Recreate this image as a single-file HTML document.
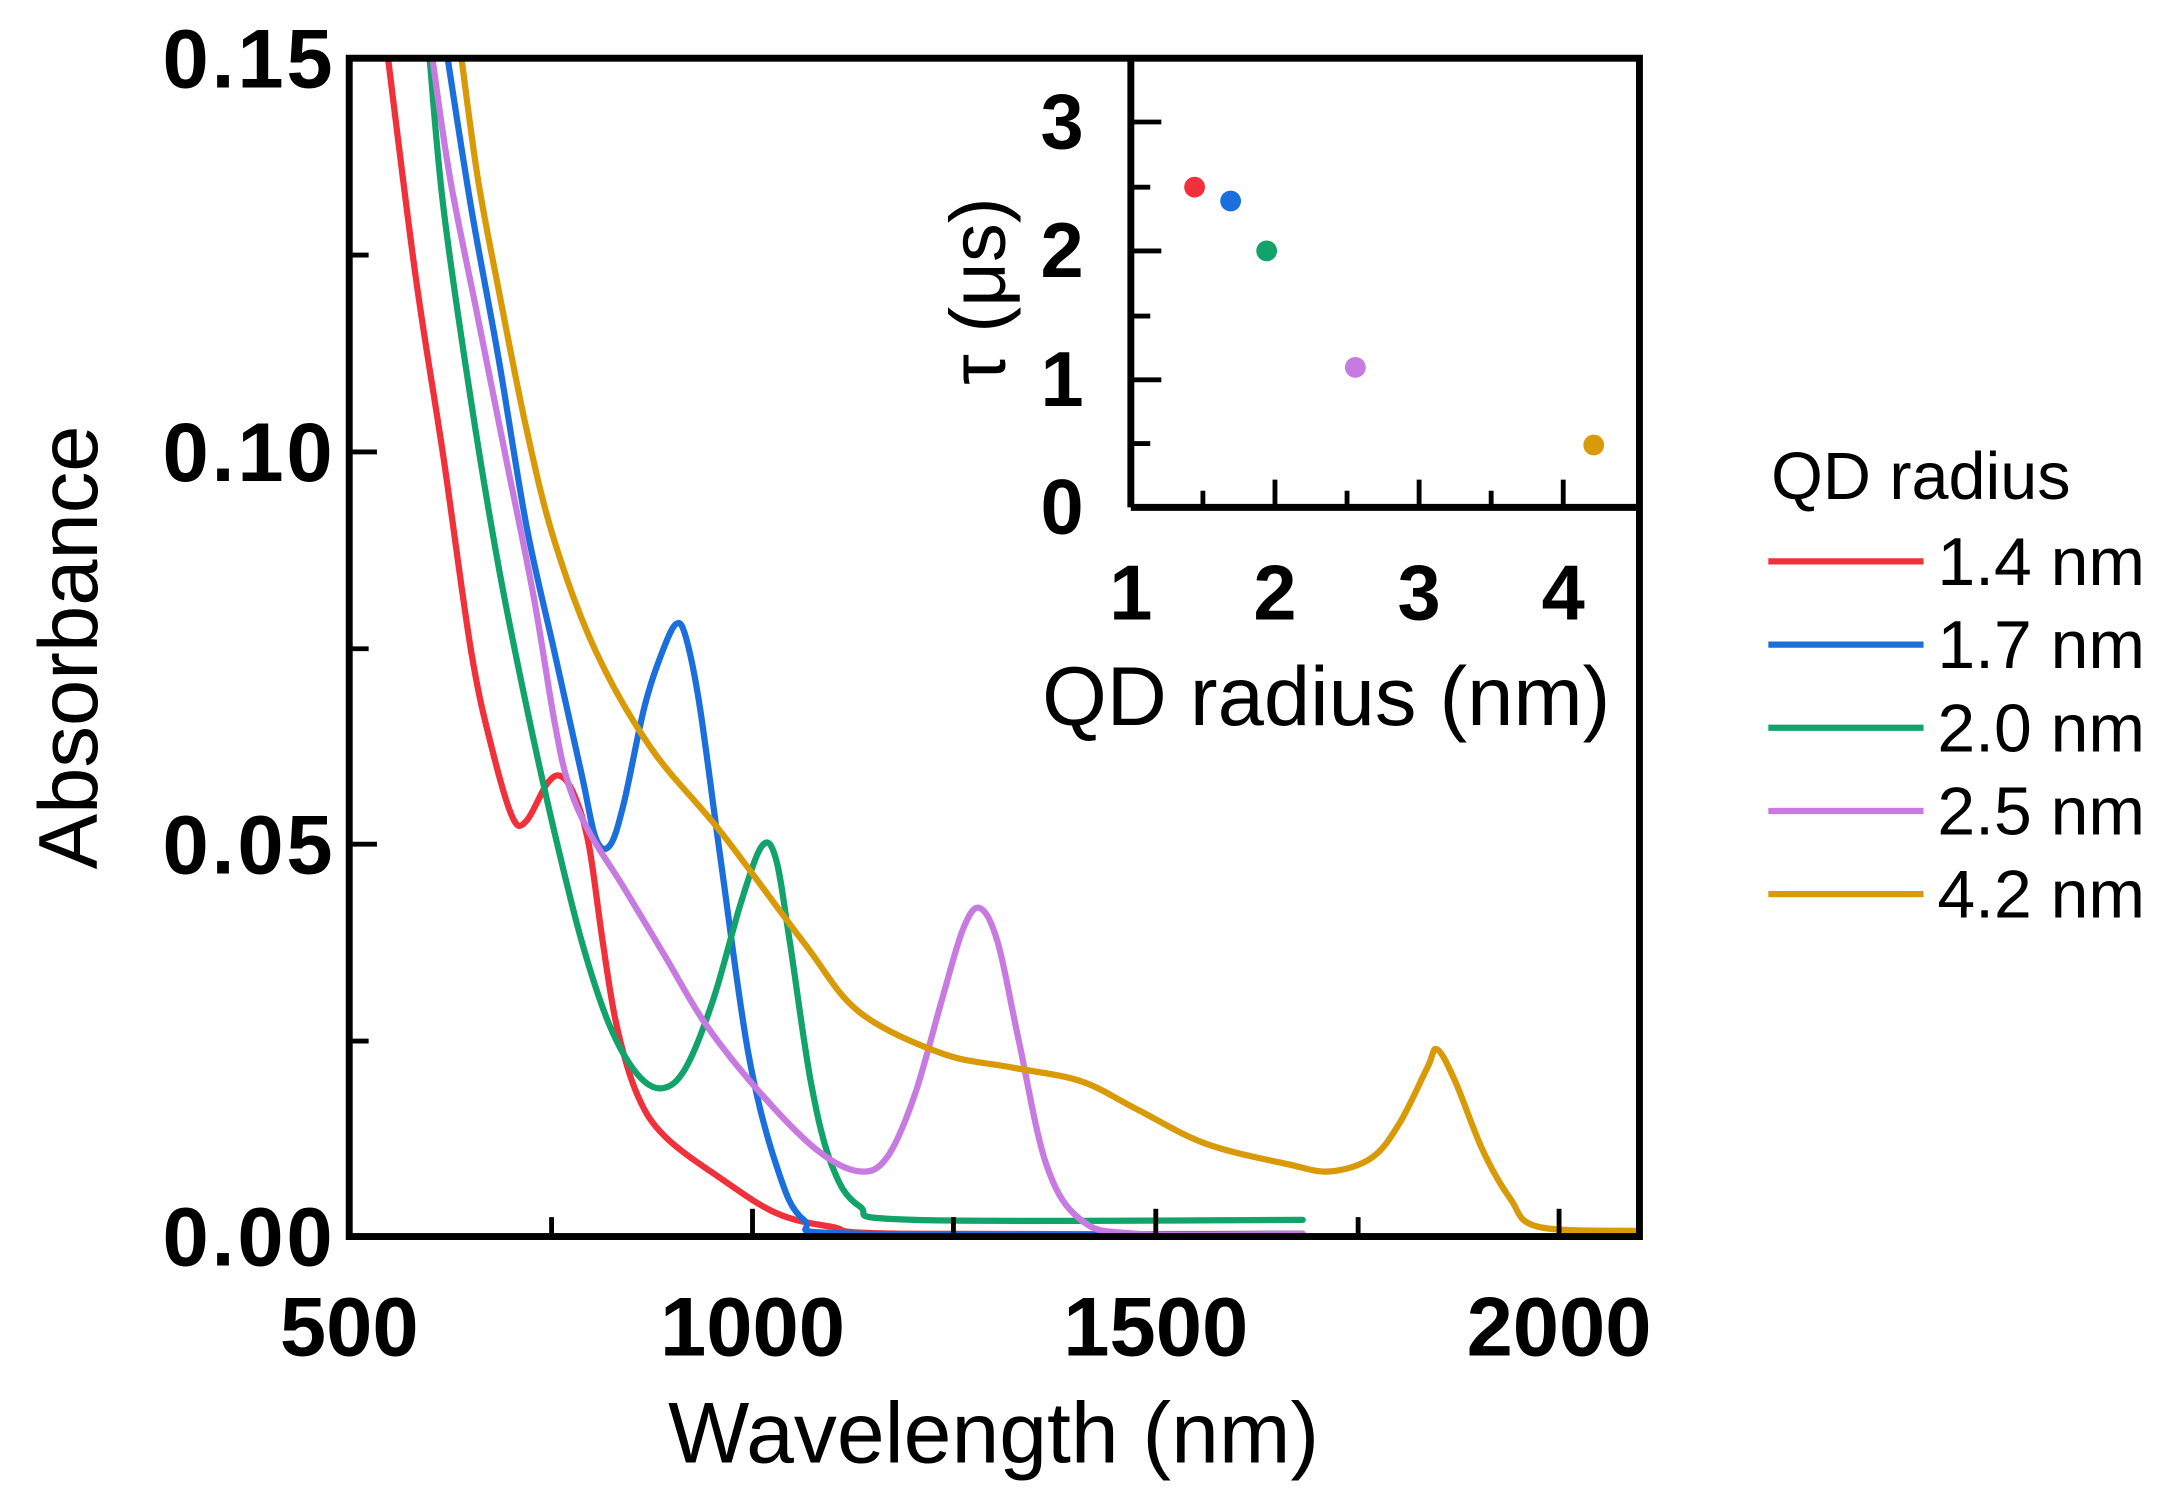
<!DOCTYPE html>
<html><head><style>html,body{margin:0;padding:0;background:#fff}svg{display:block}</style></head>
<body>
<svg id="s" width="2173" height="1511" viewBox="0 0 1568 1090" preserveAspectRatio="none" font-family="Liberation Sans, DejaVu Sans, sans-serif">
<rect width="1568" height="1090" fill="#fff"/>
<g fill="none" stroke-width="4.5" stroke-linejoin="round" stroke-linecap="round">
<polyline class="c" stroke="#f0303a" points="280,42 300,200 320,330 340,470 355,540 370,590 380,592 395,565 405,560 415,575 425,610 435,680 445,740 460,790 480,820 520,850 560,875 600,885 650,890 940,890"/>
<polyline class="c" stroke="#1a6fdc" points="323,42 340,150 360,260 380,380 400,470 420,560 430,605 440,610 450,580 465,510 478,470 488,450 495,460 505,510 520,620 540,760 560,840 580,880 620,890 940,890"/>
<polyline class="c" stroke="#12a36a" points="310,42 320,150 340,290 360,410 380,510 400,600 420,680 440,740 460,775 478,785 495,770 515,720 535,650 550,610 560,620 570,680 585,780 600,840 620,870 660,880 940,880"/>
<polyline class="c" stroke="#c77ae0" points="312,42 325,130 345,230 365,330 385,430 400,520 410,565 425,600 450,640 480,690 510,740 550,790 590,830 620,845 640,835 660,790 680,720 695,670 707,655 720,680 735,750 755,840 780,880 820,890 940,890"/>
<polyline class="c" stroke="#d99a08" points="333,42 345,130 360,210 380,310 400,390 430,470 470,540 520,600 580,680 620,730 680,760 730,770 780,780 820,800 870,825 930,840 960,845 990,835 1010,810 1030,770 1037,757 1050,780 1070,830 1090,865 1110,885 1183,888"/>
</g>
<rect x="252" y="42" width="931" height="850" fill="none" stroke="#000" stroke-width="5"/>
<g stroke="#000" stroke-width="3.5">
<line x1="252" y1="751" x2="266" y2="751"/><line x1="252" y1="609" x2="272" y2="609"/><line x1="252" y1="468" x2="266" y2="468"/><line x1="252" y1="326" x2="272" y2="326"/><line x1="252" y1="184" x2="266" y2="184"/>
<line x1="398" y1="892" x2="398" y2="878"/><line x1="543" y1="892" x2="543" y2="872"/><line x1="688" y1="892" x2="688" y2="878"/><line x1="834" y1="892" x2="834" y2="872"/><line x1="980" y1="892" x2="980" y2="878"/><line x1="1125" y1="892" x2="1125" y2="872"/>
</g>
<g font-weight="bold" font-size="60" text-anchor="end" letter-spacing="2">
<text x="242" y="63">0.15</text><text x="242" y="347">0.10</text><text x="242" y="630">0.05</text><text x="242" y="913">0.00</text>
</g>
<g font-weight="bold" font-size="60" text-anchor="middle">
<text x="252" y="978">500</text><text x="543" y="978">1000</text><text x="834" y="978">1500</text><text x="1125" y="978">2000</text>
</g>
<text x="717" y="1055" font-size="62" text-anchor="middle">Wavelength (nm)</text>
<text transform="translate(70,467) rotate(-90)" font-size="60" text-anchor="middle">Absorbance</text>
<g stroke="#000" stroke-width="5" fill="none">
<line x1="816" y1="42" x2="816" y2="366"/><line x1="816" y1="366" x2="1183" y2="366"/>
</g>
<g stroke="#000" stroke-width="3.5">
<line x1="816" y1="88" x2="838" y2="88"/><line x1="816" y1="135" x2="830" y2="135"/><line x1="816" y1="181" x2="838" y2="181"/><line x1="816" y1="228" x2="830" y2="228"/><line x1="816" y1="274" x2="838" y2="274"/><line x1="816" y1="320" x2="830" y2="320"/>
<line x1="868" y1="366" x2="868" y2="354"/><line x1="920" y1="366" x2="920" y2="346"/><line x1="972" y1="366" x2="972" y2="354"/><line x1="1024" y1="366" x2="1024" y2="346"/><line x1="1076" y1="366" x2="1076" y2="354"/><line x1="1128" y1="366" x2="1128" y2="346"/>
</g>
<g font-weight="bold" font-size="56" text-anchor="end">
<text x="782" y="107">3</text><text x="782" y="200">2</text><text x="782" y="293">1</text><text x="782" y="385">0</text>
</g>
<g font-weight="bold" font-size="56" text-anchor="middle">
<text x="816" y="447">1</text><text x="920" y="447">2</text><text x="1024" y="447">3</text><text x="1128" y="447">4</text>
</g>
<text x="957" y="523" font-size="60" text-anchor="middle">QD radius (nm)</text>
<text transform="translate(725,210) rotate(-90)" font-size="56" text-anchor="middle">τ (μs)</text>
<circle cx="862" cy="135" r="7.5" fill="#f0303a"/>
<circle cx="888" cy="145" r="7.5" fill="#1a6fdc"/>
<circle cx="914" cy="181" r="7.5" fill="#12a36a"/>
<circle cx="978" cy="265" r="7.5" fill="#c77ae0"/>
<circle cx="1150" cy="321" r="7.5" fill="#d99a08"/>
<text x="1278" y="360" font-size="48">QD radius</text>
<g stroke-width="4.5">
<line x1="1276" y1="405" x2="1388" y2="405" stroke="#f0303a"/>
<line x1="1276" y1="465" x2="1388" y2="465" stroke="#1a6fdc"/>
<line x1="1276" y1="525" x2="1388" y2="525" stroke="#12a36a"/>
<line x1="1276" y1="585" x2="1388" y2="585" stroke="#c77ae0"/>
<line x1="1276" y1="645" x2="1388" y2="645" stroke="#d99a08"/>
</g>
<g font-size="49">
<text x="1398" y="422">1.4 nm</text><text x="1398" y="482">1.7 nm</text><text x="1398" y="542">2.0 nm</text><text x="1398" y="602">2.5 nm</text><text x="1398" y="662">4.2 nm</text>
</g>
</svg>
<script>
document.querySelectorAll('polyline.c').forEach(function(pl){
 var p=pl.getAttribute('points').trim().split(/\s+/).map(function(s){return s.split(',').map(Number)});
 var d='M'+p[0][0]+','+p[0][1];
 for(var i=0;i<p.length-1;i++){
  var p0=p[i-1]||p[i],p1=p[i],p2=p[i+1],p3=p[i+2]||p2;
  var c1=[p1[0]+(p2[0]-p0[0])/6,p1[1]+(p2[1]-p0[1])/6];
  var c2=[p2[0]-(p3[0]-p1[0])/6,p2[1]-(p3[1]-p1[1])/6];
  d+=' C'+c1+' '+c2+' '+p2;
 }
 var path=document.createElementNS('http://www.w3.org/2000/svg','path');
 path.setAttribute('d',d);path.setAttribute('stroke',pl.getAttribute('stroke'));
 pl.parentNode.replaceChild(path,pl);
});
</script>
</body></html>
